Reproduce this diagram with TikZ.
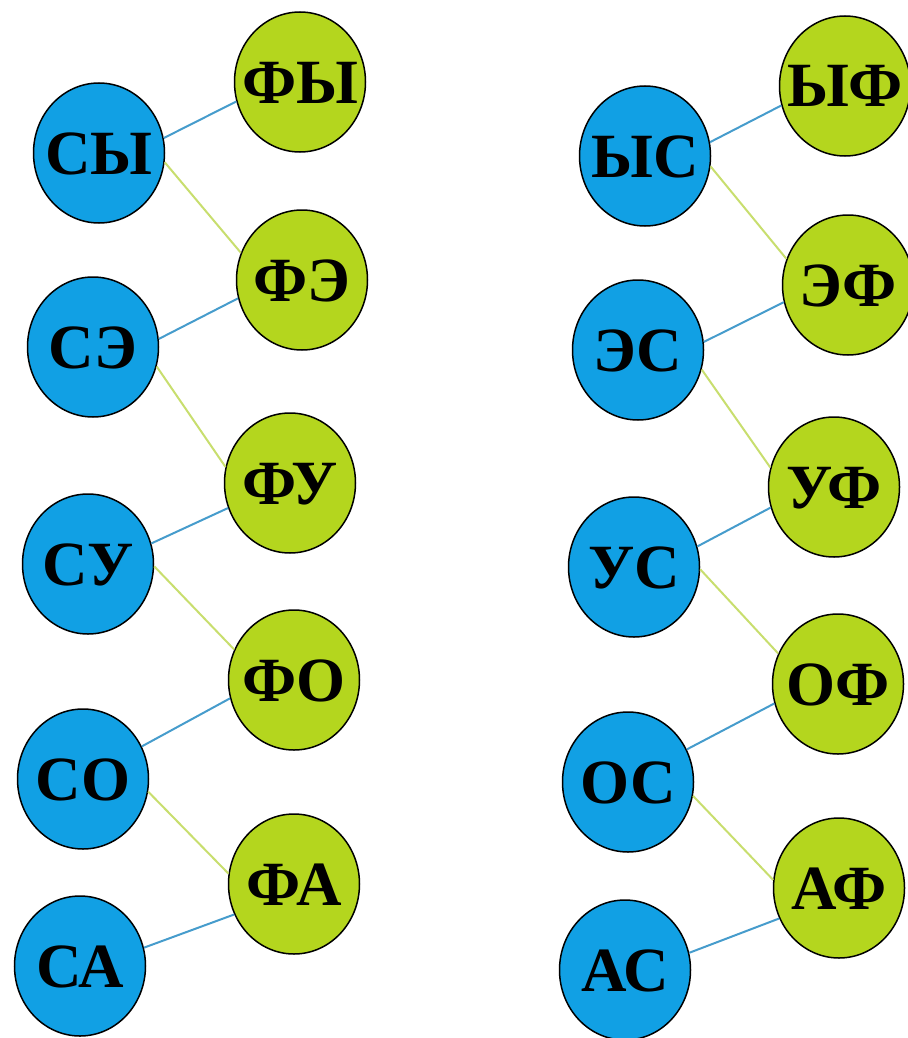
\documentclass[tikz,border=0pt]{standalone}
\usepackage{fontspec}
\setmainfont{Liberation Serif}
\usetikzlibrary{shapes.geometric}
\definecolor{bfill}{RGB}{17,160,228}
\definecolor{gfill}{RGB}{180,214,30}
\definecolor{bline}{RGB}{70,156,204}
\definecolor{gline}{RGB}{200,222,110}
\newcommand{\lbl}[1]{\makebox[0pt]{#1}}
\tikzset{
  nd/.style={ellipse, draw=black, line width=1.5pt, minimum width=131pt, minimum height=140pt, inner sep=0pt,
    font=\fontsize{63}{63}\selectfont\bfseries, text height=42pt, text depth=0pt},
  bnode/.style={nd, fill=bfill},
  gnode/.style={nd, fill=gfill},
  bedge/.style={draw=bline, line width=2pt},
  gedge/.style={draw=gline, line width=2pt}
}
\begin{document}
\begin{tikzpicture}[x=1pt,y=-1pt]
\useasboundingbox (0,0) rectangle (907,1038);
% left
\node[bnode] (s1) at (99,153) {\lbl{СЫ}};
\node[bnode] (s2) at (93,347) {\lbl{СЭ}};
\node[bnode] (s3) at (88,564) {\lbl{СУ}};
\node[bnode] (s4) at (83,779) {\lbl{СО}};
\node[bnode] (s5) at (80,966) {\lbl{СА}};
\node[gnode] (f1) at (300,82) {\lbl{ФЫ}};
\node[gnode] (f2) at (302,280) {\lbl{ФЭ}};
\node[gnode] (f3) at (290,483) {\lbl{ФУ}};
\node[gnode] (f4) at (294,680) {\lbl{ФО}};
\node[gnode] (f5) at (294,884) {\lbl{ФА}};
% right
\node[bnode] (t1) at (645,156) {\lbl{ЫС}};
\node[bnode] (t2) at (638,350) {\lbl{ЭС}};
\node[bnode] (t3) at (634,567) {\lbl{УС}};
\node[bnode] (t4) at (628,782) {\lbl{ОС}};
\node[bnode] (t5) at (625,970) {\lbl{АС}};
\node[gnode] (g1) at (845,86) {\lbl{ЫФ}};
\node[gnode] (g2) at (848,285) {\lbl{ЭФ}};
\node[gnode] (g3) at (834,487) {\lbl{УФ}};
\node[gnode] (g4) at (838,684) {\lbl{ОФ}};
\node[gnode] (g5) at (839,888) {\lbl{АФ}};
% edges
\foreach \a/\sa/\b/\ea in {s1/13/f1/197, s2/7/f2/196, s3/18/f3/202, s4/29/f4/196, s5/16/f5/207,
                           t1/12/g1/197, t2/7/g2/195, t3/18/g3/198, t4/29/g4/197, t5/15/g5/207}
  \draw[bedge] (\a.\sa) -- (\b.\ea);
\foreach \a/\sa/\b/\ea in {s1/-8/f2/156, s2/-17/f3/166, s3/-2/f4/153, s4/-11/f5/171,
                           t1/-9/g2/157, t2/-17/g3/163, t3/-2/g4/153, t4/-12/g5/173}
  \draw[gedge] (\a.\sa) -- (\b.\ea);
\end{tikzpicture}
\end{document}
